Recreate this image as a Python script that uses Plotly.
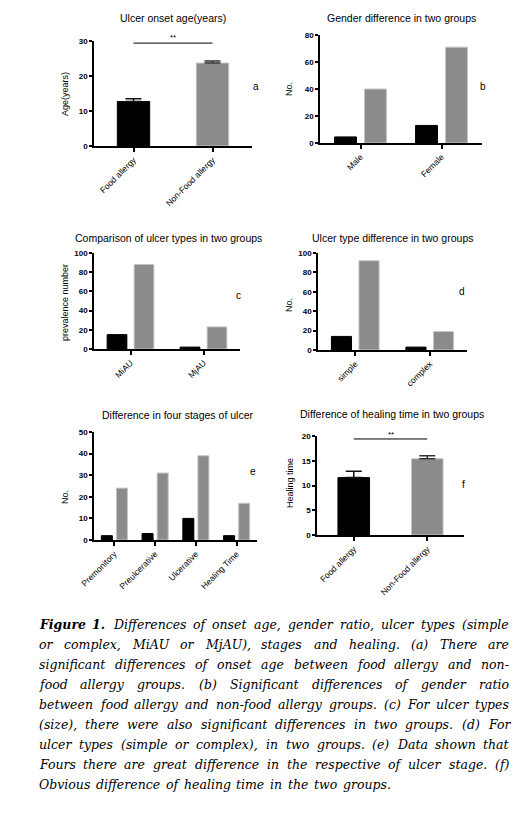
import glob
import plotly.graph_objects as go

# page is 523x815; the page body has an 8px margin, so the figure is 507x799
PAGE_W, PAGE_H = 523, 815
OFF = 8
FW, FH = PAGE_W - 2 * OFF, PAGE_H - 2 * OFF

# ---------------- data ----------------
# (a) Ulcer onset age
a_cats = ["Food allergy", "Non-Food allergy"]
a_vals = [12.7, 23.7]
a_err = [0.8, 0.6]

# (b) Gender
b_cats = ["Male", "Female"]
b_food = [4.5, 13]
b_nonfood = [40, 71]

# (c) Ulcer types (size)
c_cats = ["MiAU", "MjAU"]
c_food = [15, 2]
c_nonfood = [88, 23]

# (d) Ulcer type
d_cats = ["simple", "complex"]
d_food = [14, 3]
d_nonfood = [92, 19]

# (e) Four stages
e_cats = ["Premonitory", "Preulcerative", "Ulcerative", "Healing Time"]
e_food = [2, 3, 10, 2]
e_nonfood = [24, 31, 39, 17]

# (f) Healing time
f_cats = ["Food allergy", "Non-Food allergy"]
f_vals = [11.6, 15.4]
f_err = [1.3, 0.6]

caption_lines = [
    "Figure 1. Differences of onset age, gender ratio, ulcer types (simple",
    "or complex, MiAU or MjAU), stages and healing. (a) There are",
    "significant differences of onset age between food allergy and non-",
    "food allergy groups. (b) Significant differences of gender ratio",
    "between food allergy and non-food allergy groups. (c) For ulcer types",
    "(size), there were also significant differences in two groups. (d) For",
    "ulcer types (simple or complex), in two groups. (e) Data shown that",
    "Fours there are great difference in the respective of ulcer stage. (f)",
    "Obvious difference of healing time in the two groups.",
]

BLACK = "#000000"
GRAY = "#8b8b8b"
GRAY_EDGE = "#c4c4c4"
SANS = "Liberation Sans"


def X(px):
    return (px - OFF) / FW


def Y(py):
    return 1 - (py - OFF) / FH


def xd(l, r):
    return [X(l), X(r)]


def yd(top, bottom):
    return [Y(bottom), Y(top)]


fig = go.Figure()

panels = [
    ("", xd(94, 252), yd(41, 146), [0, 30], 10, a_cats),
    ("2", xd(320, 482), yd(35, 143), [0, 80], 20, b_cats),
    ("3", xd(94, 240), yd(253, 349), [0, 100], 20, c_cats),
    ("4", xd(318, 467), yd(253, 350), [0, 100], 20, d_cats),
    ("5", xd(94, 257), yd(432, 540), [0, 50], 10, e_cats),
    ("6", xd(317, 464), yd(436, 535), [0, 20], 5, f_cats),
]

layout_axes = {}
for name, xdom, ydom, yr, dt, cats in panels:
    n = len(cats)
    layout_axes["xaxis" + name] = dict(
        domain=xdom, anchor="y" + name, range=[-0.5, n - 0.5],
        tickvals=list(range(n)), ticktext=cats, tickangle=-45,
        showline=True, linecolor="black", linewidth=1.5,
        ticks="outside", ticklen=4, tickwidth=1.5, tickcolor="black",
        showgrid=False, zeroline=False, automargin=False, fixedrange=True,
        tickfont=dict(family=SANS, size=8.5, color="black"),
    )
    layout_axes["yaxis" + name] = dict(
        domain=ydom, anchor="x" + name, range=yr, dtick=dt, tick0=0,
        showline=True, linecolor="black", linewidth=1.5,
        ticks="outside", ticklen=3, tickwidth=1.5, tickcolor="black",
        showgrid=False, zeroline=False, automargin=False, fixedrange=True,
        tickfont=dict(family=SANS, size=8, color="black", weight="bold"),
    )


def single(xname, cats, vals, errs, width):
    for i in range(len(cats)):
        col = BLACK if i == 0 else GRAY
        edge = BLACK if i == 0 else GRAY_EDGE
        ecol = "#111111" if i == 0 else "#333333"
        fig.add_trace(go.Bar(
            x=[i], y=[vals[i]], width=width, offset=-width / 2,
            xaxis="x" + xname, yaxis="y" + xname,
            marker=dict(color=col, line=dict(color=edge, width=1)),
            error_y=dict(type="data", symmetric=False, array=[errs[i]],
                         arrayminus=[0], color=ecol, thickness=1.5, width=8),
            showlegend=False, hoverinfo="skip", cliponaxis=False,
        ))


def grouped(xname, cats, food, nonfood):
    xs = list(range(len(cats)))
    bw = 0.27
    fig.add_trace(go.Bar(
        x=xs, y=food, width=bw, offset=-0.05 - bw,
        xaxis="x" + xname, yaxis="y" + xname,
        marker=dict(color=BLACK, line=dict(color=BLACK, width=1)),
        showlegend=False, hoverinfo="skip",
    ))
    fig.add_trace(go.Bar(
        x=xs, y=nonfood, width=bw, offset=0.05,
        xaxis="x" + xname, yaxis="y" + xname,
        marker=dict(color=GRAY, line=dict(color=GRAY_EDGE, width=1)),
        showlegend=False, hoverinfo="skip",
    ))


single("", a_cats, a_vals, a_err, 0.41)
grouped("2", b_cats, b_food, b_nonfood)
grouped("3", c_cats, c_food, c_nonfood)
grouped("4", d_cats, d_food, d_nonfood)
grouped("5", e_cats, e_food, e_nonfood)
single("6", f_cats, f_vals, f_err, 0.43)

annotations = []


def pann(text, x, y, size=10.5, angle=0, family=SANS):
    annotations.append(dict(
        text=text, x=X(x), y=Y(y), xref="paper", yref="paper",
        showarrow=False, xanchor="center", yanchor="middle", textangle=angle,
        font=dict(family=family, size=size, color="black")))


# titles
pann("Ulcer onset age(years)", 173, 18)
pann("Gender difference in two groups", 401, 18)
pann("Comparison of ulcer types in two groups", 168, 238)
pann("Ulcer type difference in two groups", 392, 238)
pann("Difference in four stages of ulcer", 177, 415)
pann("Difference of healing time in two groups", 392, 414)

# y titles
pann("Age(years)", 65, 94, size=9, angle=-90)
pann("No.", 289, 89, size=9, angle=-90)
pann("prevalence number", 65, 303, size=9, angle=-90)
pann("No.", 289, 305, size=9, angle=-90)
pann("No.", 65, 497, size=9, angle=-90)
pann("Healing time", 290, 483, size=9, angle=-90)

# panel letters
pann("a", 256, 86, size=10)
pann("b", 483, 86, size=10)
pann("c", 238, 296, size=10)
pann("d", 462, 292, size=10)
pann("e", 253, 472, size=10)
pann("f", 463, 484, size=10)

# significance marks
pann("**", 173, 38, size=8)
pann("**", 391, 434, size=8)
shapes = [
    dict(type="line", xref="x", yref="y", x0=0, x1=1, y0=29.4, y1=29.4,
         line=dict(color="black", width=1)),
    dict(type="line", xref="x6", yref="y6", x0=0, x1=1, y0=19.4, y1=19.4,
         line=dict(color="black", width=1)),
]

# ---------------- caption (justified) ----------------
CAP_FONT = "DejaVu Serif"
CAP_SIZE = 12.5
L, R, R_LAST = 38, 508, 390
LINE0, LSTEP = 624, 20


def find(name):
    for p in glob.glob("/usr/share/fonts/**/" + name, recursive=True):
        return p
    return None


measure = None
try:
    from PIL import ImageFont
    f_it = ImageFont.truetype(find("DejaVuSerif-Italic.ttf"), CAP_SIZE)
    f_bi = ImageFont.truetype(find("DejaVuSerif-BoldItalic.ttf"), CAP_SIZE)

    def measure(word, bold=False):
        return (f_bi if bold else f_it).getlength(word)
except Exception:
    def measure(word, bold=False):
        return len(word) * CAP_SIZE * 0.6 * (1.08 if bold else 1.0)

bold_words = {(0, 0), (0, 1)}
for li, line in enumerate(caption_lines):
    words = line.split(" ")
    y = LINE0 + LSTEP * li
    ws = [measure(w, (li, k) in bold_words) for k, w in enumerate(words)]
    right = R_LAST if li == len(caption_lines) - 1 else R
    gap = (right - L - sum(ws)) / (len(words) - 1)
    x = L
    for k, w in enumerate(words):
        txt = "<b>%s</b>" % w if (li, k) in bold_words else w
        annotations.append(dict(
            text="<i>%s</i>" % txt, x=X(x), y=Y(y),
            xref="paper", yref="paper", showarrow=False,
            xanchor="left", yanchor="middle", borderpad=0,
            font=dict(family=CAP_FONT, size=CAP_SIZE, color="black")))
        x += ws[k] + gap

fig.update_layout(
    width=FW, height=FH, margin=dict(l=0, r=0, t=0, b=0),
    paper_bgcolor="white", plot_bgcolor="white",
    barmode="overlay", showlegend=False,
    annotations=annotations, shapes=shapes,
    **layout_axes,
)

fig.write_html("out.html")
